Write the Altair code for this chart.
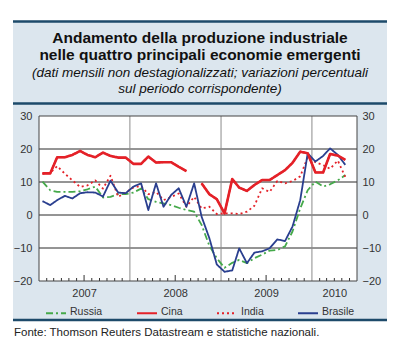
import altair as alt
import pandas as pd

# ---------------- data ----------------
serie = ["Russia", "Cina", "India", "Brasile"]
primo_mese = "2007-01-01"   # monthly data, Jan 2007 - May 2010

russia = [10.1, 7.5, 7.0, 7.0, 7.0, 7.2, 7.8, 8.6, 5.3, 5.5, 6.3, 6.3,
          6.8, 8.0, 4.8, 4.0, 3.5, 3.0, 2.2, 1.5, 1.0, -3.0, -9.3, -13.1,
          -16.0, -14.5, -13.6, -14.6, -13.1, -12.0, -10.8, -10.6, -9.5, -5.0, 2.0, 7.5,
          10.1, 8.6, 9.3, 10.5, 12.1]
cina = [12.6, 12.6, 17.5, 17.5, 18.2, 19.4, 18.2, 17.5, 18.9, 17.9, 17.4, 17.4,
        15.5, 15.5, 17.7, 15.9, 16.0, 16.0, 14.6, 13.3, None, 9.6, 6.3, 4.8,
        0.5, 10.9, 8.3, 7.3, 9.1, 10.6, 10.6, 12.1, 13.6, 15.8, 19.2, 18.7,
        12.9, 12.9, 18.5, 18.0, 16.7]
india = [12.5, 12.8, 14.8, 12.5, 10.5, 8.5, 9.0, 10.5, 8.0, 11.9, 5.5, 6.8,
         8.3, 8.8, 6.3, 7.0, 4.5, 5.5, 6.5, 2.5, 5.5, 2.0, 2.5, 0.3,
         0.5, 0.5, 0.3, 1.0, 2.8, 8.1, 7.0, 10.3, 9.6, 10.3, 11.7, 17.5,
         16.0, 15.1, 14.0, 16.5, 11.5]
brasile = [4.2, 3.0, 4.5, 5.8, 5.0, 6.6, 6.9, 6.8, 5.6, 10.4, 6.8, 6.6,
           8.6, 9.6, 1.5, 9.6, 2.5, 6.1, 8.1, 2.5, 9.6, -0.5, -7.0, -15.0,
           -17.2, -16.8, -10.1, -14.6, -11.4, -11.0, -10.1, -7.4, -7.9, -3.5, 4.5, 18.7,
           16.2, 17.9, 20.2, 18.2, 15.2]

y_ticks = [-20, -10, 0, 10, 20, 30]
grid_values = [-10, 0, 10, 20]
anni_inizio = ["2008-01-01", "2009-01-01", "2010-01-01"]

titolo = ["Andamento della produzione industriale",
          "nelle quattro principali economie emergenti"]
sottotitolo = ["(dati mensili non destagionalizzati; variazioni percentuali",
               "sul periodo corrispondente)"]
fonte = "Fonte: Thomson Reuters Datastream e statistiche nazionali."

# ---------------- build table ----------------
mesi = pd.date_range(primo_mese, periods=len(russia), freq="MS") + pd.Timedelta(days=14)
rows = []
for nome, valori in zip(serie, [russia, cina, india, brasile]):
    tratto = 0
    for d, v in zip(mesi, valori):
        if v is None:
            tratto += 1
            continue
        rows.append({"mese": d, "serie": nome, "tratto": f"{nome}{tratto}", "valore": v})
df = pd.DataFrame(rows)

mesi_tick = pd.date_range("2007-02-01", "2010-06-01", freq="MS")
tick_df = pd.DataFrame({"d": [m for m in mesi_tick if m.month not in (1, 7)]})
tick_mid_df = pd.DataFrame({"d": [m for m in mesi_tick if m.month == 7]})
anni_df = pd.DataFrame({"d": pd.to_datetime(anni_inizio)})
grid_df = pd.DataFrame({"valore": grid_values})
one = pd.DataFrame({"k": [0]})

# ---------------- style ----------------
W, H = 318, 165
FONT = "Liberation Sans"
BG = "#dce6ee"
NAVY = "#1d4a6a"
colori = ["#45a94a", "#e42128", "#e42128", "#2a3f8f"]
dash = [[7, 3, 2, 3], [1, 0], [2, 3], [1, 0]]

xscale = alt.Scale(domain=[alt.DateTime(year=2007, month=1, date=1),
                           alt.DateTime(year=2010, month=7, date=1)])
yscale = alt.Scale(domain=[-20, 30], nice=False, zero=False)

x_axis = alt.Axis(values=[alt.DateTime(year=2007, month=7, date=1),
                          alt.DateTime(year=2008, month=7, date=1),
                          alt.DateTime(year=2009, month=7, date=1),
                          alt.DateTime(year=2010, month=4, date=1)],
                  format="%Y", ticks=False, domain=False, grid=False, title=None,
                  labelFontSize=11, labelFont=FONT, labelColor="#333",
                  labelPadding=6, labelFlush=False, zindex=1)
left_axis = alt.Axis(orient="left", values=y_ticks, ticks=False, domain=False, grid=False,
                     title=None, labelFontSize=11, labelFont=FONT, labelColor="#333",
                     labelPadding=7, zindex=1)
right_axis = alt.Axis(orient="right", values=y_ticks, ticks=False, domain=False, grid=False,
                      title=None, labelFontSize=11, labelFont=FONT, labelColor="#333",
                      labelPadding=5, zindex=1)

legenda = alt.Legend(orient="none", legendX=6, legendY=190, direction="horizontal",
                     title=None, symbolType="M-1,-0.4L1,-0.4", symbolSize=400,
                     symbolStrokeWidth=2, symbolFillColor="transparent",
                     labelFontSize=10.5, labelFont=FONT, labelColor="#333",
                     labelBaseline="bottom", labelOffset=3, columnPadding=30, padding=0)

# ---------------- layers ----------------
bg = alt.Chart(one).mark_rect(color=BG).encode(
    x=alt.value(-26), x2=alt.value(348), y=alt.value(-95), y2=alt.value(204))

def riga(yv):
    return alt.Chart(one).mark_rule(color=NAVY, strokeWidth=2.5).encode(
        x=alt.value(-26), x2=alt.value(348), y=alt.value(yv))

t1 = alt.Chart(one).mark_text(text=titolo, font=FONT, fontSize=15.5, fontWeight="bold",
                              lineHeight=17, align="center", baseline="middle",
                              color="#111").encode(x=alt.value(161), y=alt.value(-78))
t2 = alt.Chart(one).mark_text(text=sottotitolo, font=FONT, fontSize=13.5, fontStyle="italic",
                              lineHeight=16.6, align="center", baseline="middle",
                              color="#111").encode(x=alt.value(161), y=alt.value(-43.5))

plot_bg = alt.Chart(one).mark_rect(color="white").encode(
    x=alt.value(0), x2=alt.value(W), y=alt.value(0), y2=alt.value(H))

grid = alt.Chart(grid_df).mark_rule(color="#2a2a2a", strokeWidth=1).encode(
    y=alt.Y("valore:Q", scale=yscale, axis=right_axis))

anni_lines = alt.Chart(anni_df).mark_rule(color="#8c8c8c", strokeWidth=1).encode(
    x=alt.X("d:T", scale=xscale, axis=None))

ticks = alt.Chart(tick_df).mark_rule(color="#333", strokeWidth=1).encode(
    x=alt.X("d:T", scale=xscale, axis=None), y=alt.value(H), y2=alt.value(H - 3))
ticks_mid = alt.Chart(tick_mid_df).mark_rule(color="#333", strokeWidth=1).encode(
    x=alt.X("d:T", scale=xscale, axis=None), y=alt.value(H), y2=alt.value(H - 6))

def enc(x_ax, y_ax):
    return dict(
        x=alt.X("mese:T", scale=xscale, axis=x_ax),
        y=alt.Y("valore:Q", scale=yscale, axis=y_ax),
        color=alt.Color("serie:N", scale=alt.Scale(domain=serie, range=colori), legend=legenda),
        strokeDash=alt.StrokeDash("serie:N", scale=alt.Scale(domain=serie, range=dash), legend=legenda),
        detail="tratto:N",
    )

linee = alt.Chart(df).mark_line(strokeJoin="round", strokeWidth=1.8).encode(
    **enc(x_axis, left_axis))
linee_cina = alt.Chart(df).transform_filter(
    alt.datum.serie == "Cina").mark_line(strokeJoin="round", strokeWidth=2.6).encode(
    **enc(None, None))

bordo = alt.Chart(one).mark_rect(fillOpacity=0, stroke="#444", strokeWidth=1).encode(
    x=alt.value(0), x2=alt.value(W), y=alt.value(0), y2=alt.value(H))

piede = alt.Chart(one).mark_text(text=fonte, font=FONT, fontSize=11.5, align="left",
                                 baseline="middle", color="#222").encode(
    x=alt.value(-25), y=alt.value(217))

chart = alt.layer(
    bg, riga(-94.5), riga(-12.5), riga(204), t1, t2,
    plot_bg, grid, anni_lines, ticks, ticks_mid, linee, linee_cina, bordo, piede,
).resolve_axis(
    x="independent", y="independent"
).properties(
    width=W, height=H,
    padding={"left": 31, "top": 108, "right": 35, "bottom": 66},
    autosize=alt.AutoSizeParams(type="none"),
).configure_view(strokeWidth=0).configure(background="white")

chart.save("out.html", embed_options={"renderer": "svg", "actions": False})
